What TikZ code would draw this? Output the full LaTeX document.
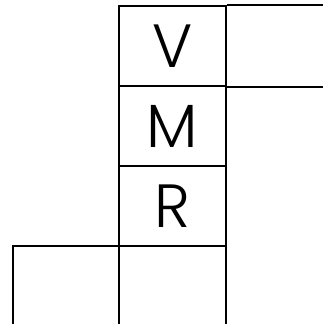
\documentclass[tikz,border=0pt]{standalone}
\usepackage{fontspec}
\setmainfont{Poppins}[UprightFont=* Light]
\tikzset{
  cell/.style={draw, line width=2pt, minimum width=107pt, minimum height=80pt, inner sep=0pt, font=\fontsize{61}{61}\selectfont},
  gridline/.style={line width=2pt}
}
\begin{document}
\begin{tikzpicture}[x=1pt,y=1pt]
\useasboundingbox (0,0) rectangle (322,324);
\node[cell] (v) at (172.5,278) {V};
\node[cell] (m) at (172.5,198) {M};
\node[cell] (r) at (172.5,118) {R};
\node[cell] (b) at (172.5,38) {};
\node[cell, minimum width=106.5pt] (a) at (65.9,38) {};
\coordinate (e1) at (330,324-6);
\coordinate (e2) at (330,324-86);
\draw[gridline] (v.north east) -- (e1 |- v.north east);
\draw[gridline] (v.south east) -- (e2 |- v.south east);
\end{tikzpicture}
\end{document}
